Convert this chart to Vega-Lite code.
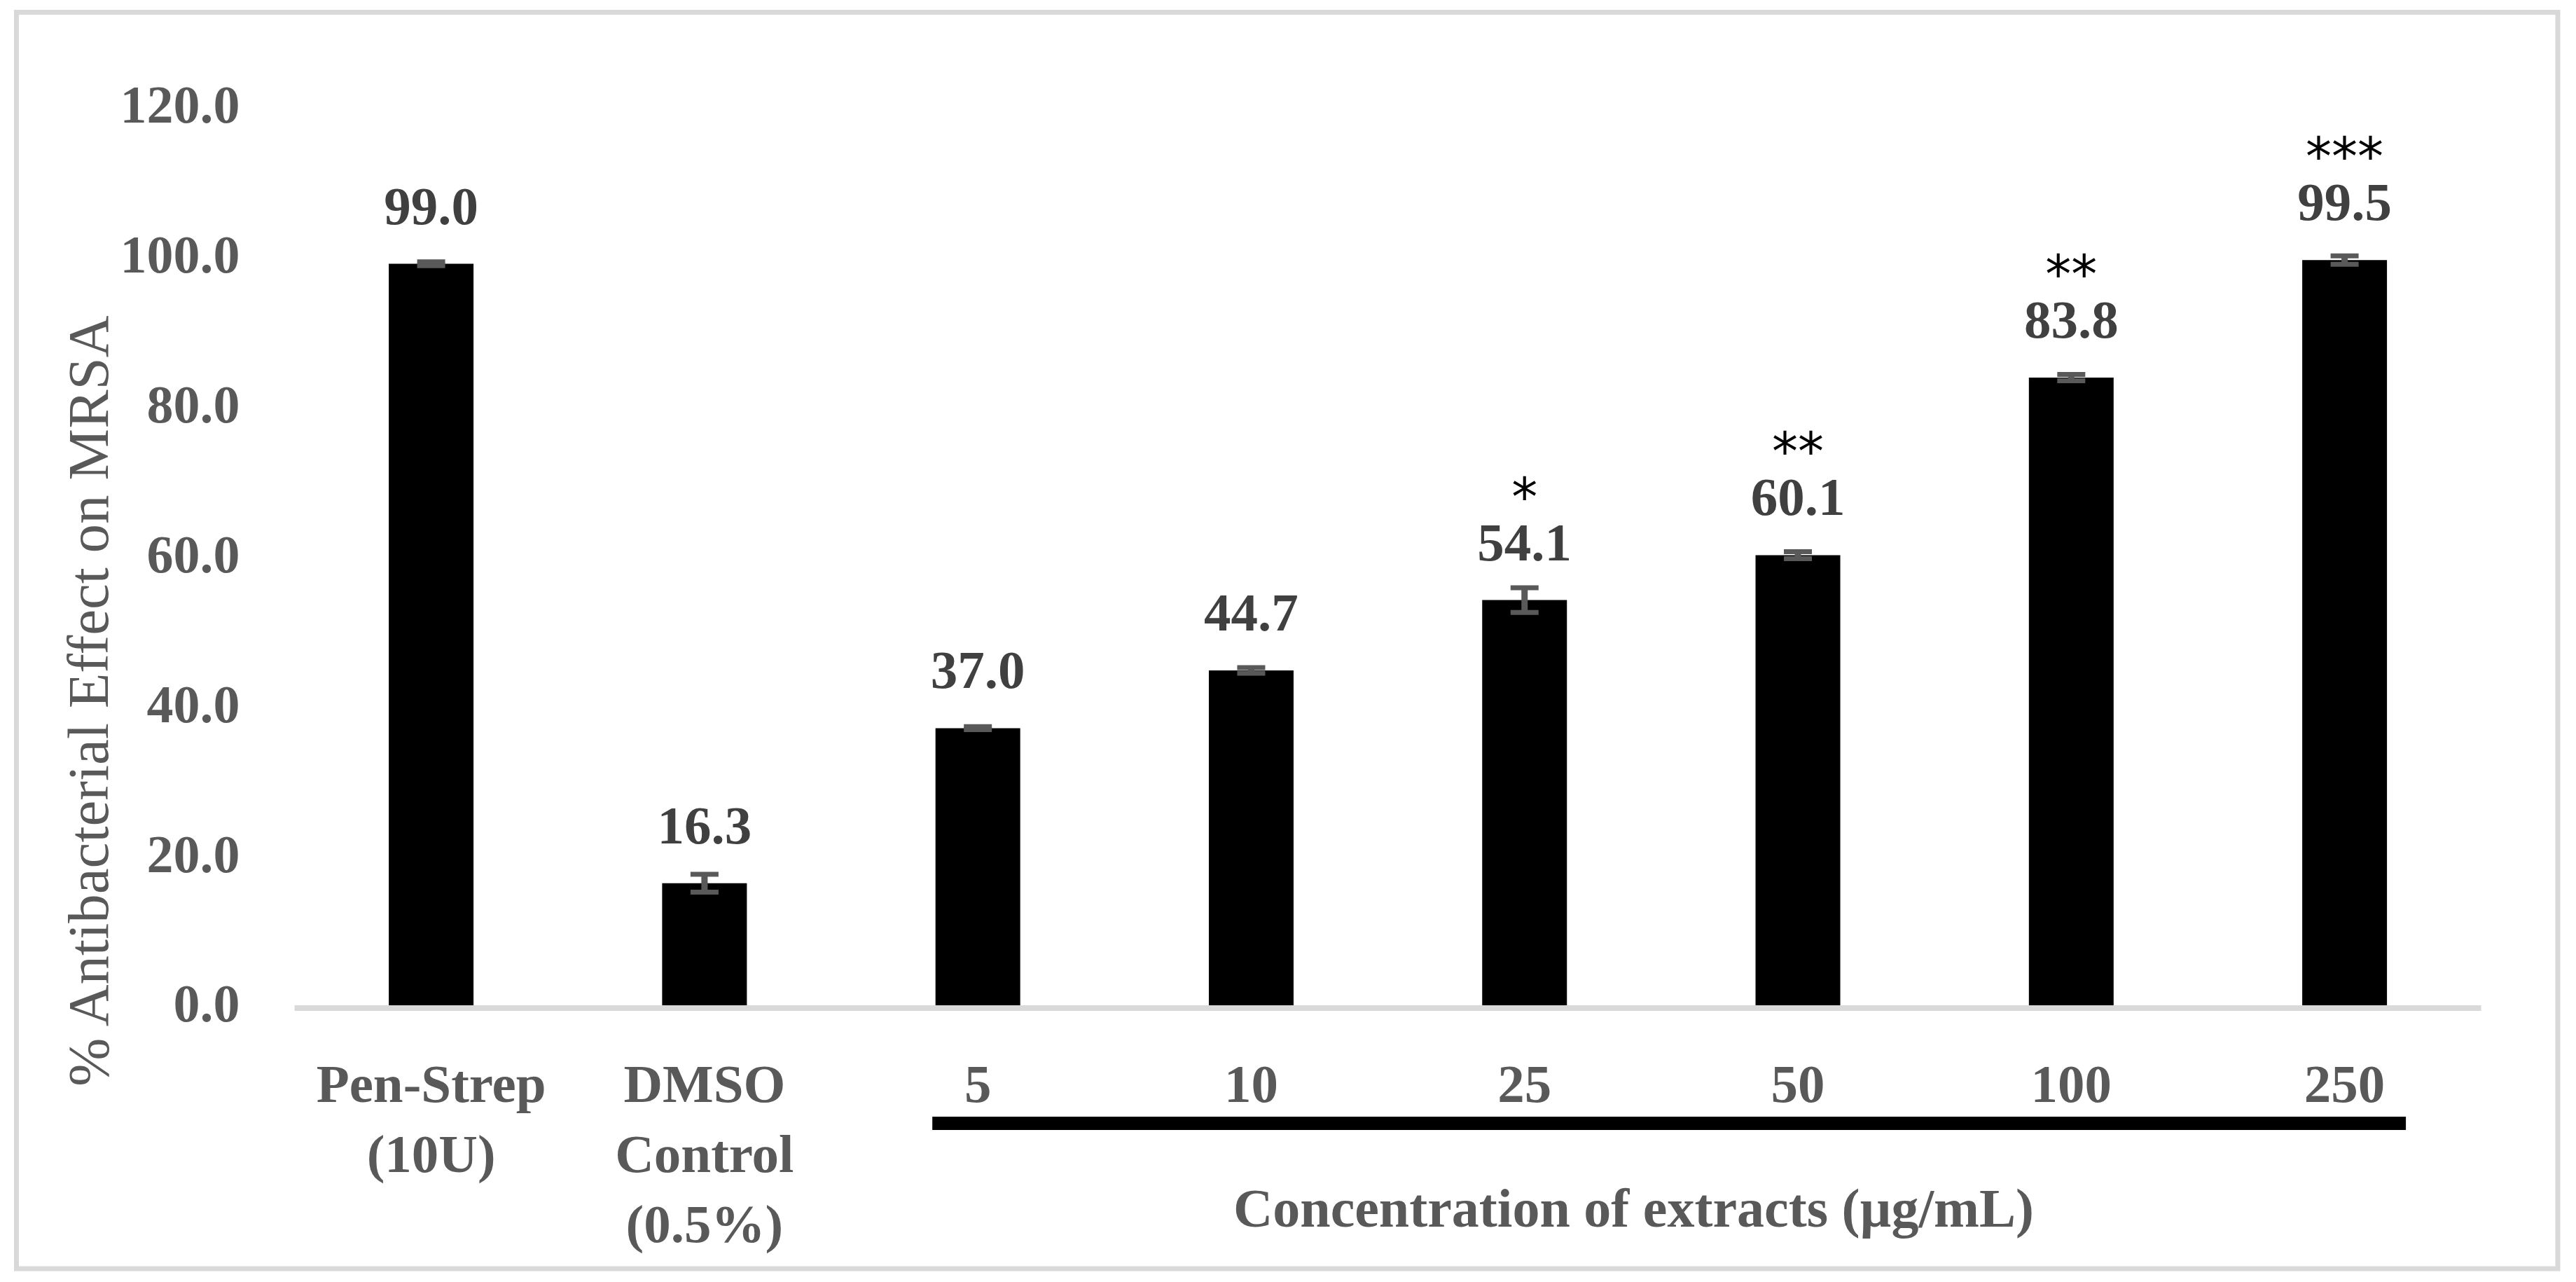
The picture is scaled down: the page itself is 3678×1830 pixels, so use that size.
{
  "$schema": "https://vega.github.io/schema/vega-lite/v6.json",
  "width": 3628.5,
  "height": 1793.5,
  "autosize": {"type": "none"},
  "padding": {"left": 23.5, "top": 17.5, "right": 26, "bottom": 19},
  "background": "white",
  "config": {
    "view": {"stroke": "#d9d9d9", "strokeWidth": 7},
    "font": "Liberation Serif"
  },
  "data": {
    "values": [
      {"group": "Pen-Strep (10U)", "value": 99.0, "lo": 98.75, "hi": 99.25, "sig": ""},
      {"group": "DMSO Control (0.5%)", "value": 16.3, "lo": 15.1, "hi": 17.5, "sig": ""},
      {"group": "5", "value": 37.0, "lo": 36.8, "hi": 37.2, "sig": ""},
      {"group": "10", "value": 44.7, "lo": 44.33, "hi": 45.07, "sig": ""},
      {"group": "25", "value": 54.1, "lo": 52.45, "hi": 55.75, "sig": "*"},
      {"group": "50", "value": 60.1, "lo": 59.63, "hi": 60.57, "sig": "**"},
      {"group": "100", "value": 83.8, "lo": 83.38, "hi": 84.22, "sig": "**"},
      {"group": "250", "value": 99.5, "lo": 98.94, "hi": 100.06, "sig": "***"}
    ]
  },
  "layer": [
    {
      "mark": {"type": "bar", "color": "black"},
      "encoding": {
        "x": {
          "field": "group",
          "type": "nominal",
          "sort": null,
          "scale": {
            "domain": ["Pen-Strep (10U)", "DMSO Control (0.5%)", "5", "10", "25", "50", "100", "250"],
            "paddingInner": 0.69,
            "paddingOuter": 0.9935,
            "align": 0.6855,
            "round": false
          },
          "axis": {
            "orient": "bottom",
            "offset": -376,
            "domain": false,
            "ticks": false,
            "tickSize": 0,
            "grid": false,
            "labelAngle": 0,
            "labelPadding": 137,
            "labelBaseline": "alphabetic",
            "labelLineHeight": 100,
            "labelLimit": 2000,
            "labelOverlap": false,
            "labelFont": "Liberation Serif",
            "labelFontSize": 77,
            "labelFontWeight": "bold",
            "labelColor": "#595959",
            "labelExpr": "datum.label == 'Pen-Strep (10U)' ? ['Pen-Strep', '(10U)'] : datum.label == 'DMSO Control (0.5%)' ? ['DMSO', 'Control', '(0.5%)'] : datum.label",
            "title": "Concentration of extracts (µg/mL)",
            "titleFont": "Liberation Serif",
            "titleFontSize": 78,
            "titleFontWeight": "bold",
            "titleColor": "#595959",
            "titleAngle": 0,
            "titleAlign": "center",
            "titleBaseline": "alphabetic",
            "titleLimit": 3000,
            "titleX": 2308.5,
            "titleY": 315
          }
        },
        "y": {
          "field": "value",
          "type": "quantitative",
          "scale": {"domain": [-35.17, 132.58], "nice": false, "zero": false},
          "axis": {
            "orient": "left",
            "offset": -318.5,
            "values": [0, 20, 40, 60, 80, 100, 120],
            "format": ".1f",
            "domain": false,
            "ticks": false,
            "tickSize": 0,
            "grid": false,
            "labelPadding": 0,
            "labelLimit": 1000,
            "labelFont": "Liberation Serif",
            "labelFontSize": 76,
            "labelFontWeight": "bold",
            "labelColor": "#595959",
            "title": "% Antibacterial Effect on MRSA",
            "titleFont": "Liberation Serif",
            "titleFontSize": 83,
            "titleFontWeight": "normal",
            "titleColor": "#595959",
            "titleAngle": -90,
            "titleAlign": "center",
            "titleBaseline": "alphabetic",
            "titleLimit": 3000,
            "titleX": -189,
            "titleY": 982.5
          }
        },
        "y2": {"datum": 0}
      }
    },
    {
      "data": {"values": [{}]},
      "mark": {"type": "rule", "color": "#d9d9d9", "strokeWidth": 8, "xOffset": -195, "x2Offset": 195, "yOffset": 4},
      "encoding": {
        "x": {"datum": "Pen-Strep (10U)", "type": "nominal"},
        "x2": {"datum": "250"},
        "y": {"datum": 0, "type": "quantitative"}
      }
    },
    {
      "mark": {"type": "rule", "color": "#595959", "strokeWidth": 9},
      "encoding": {
        "x": {"field": "group", "type": "nominal", "sort": null},
        "y": {"field": "lo", "type": "quantitative"},
        "y2": {"field": "hi"}
      }
    },
    {
      "mark": {"type": "tick", "color": "#595959", "size": 40, "thickness": 7, "opacity": 1},
      "encoding": {
        "x": {"field": "group", "type": "nominal", "sort": null},
        "y": {"field": "lo", "type": "quantitative"}
      }
    },
    {
      "mark": {"type": "tick", "color": "#595959", "size": 40, "thickness": 7, "opacity": 1},
      "encoding": {
        "x": {"field": "group", "type": "nominal", "sort": null},
        "y": {"field": "hi", "type": "quantitative"}
      }
    },
    {
      "mark": {"type": "text", "font": "Liberation Serif", "fontSize": 77, "fontWeight": "bold", "color": "#404040", "baseline": "alphabetic", "align": "center", "dy": -57},
      "encoding": {
        "x": {"field": "group", "type": "nominal", "sort": null},
        "y": {"field": "value", "type": "quantitative"},
        "text": {"field": "value", "type": "quantitative", "format": ".1f"}
      }
    },
    {
      "mark": {"type": "text", "font": "DejaVu Sans", "fontSize": 74, "color": "black", "baseline": "alphabetic", "align": "center", "dy": -122},
      "encoding": {
        "x": {"field": "group", "type": "nominal", "sort": null},
        "y": {"field": "value", "type": "quantitative"},
        "text": {"field": "sig", "type": "nominal"}
      }
    },
    {
      "data": {"values": [{}]},
      "mark": {"type": "rule", "color": "black", "strokeWidth": 19, "xOffset": -65, "x2Offset": 87.5},
      "encoding": {
        "x": {"datum": "5", "type": "nominal"},
        "x2": {"datum": "250"},
        "y": {"datum": -15.76, "type": "quantitative"}
      }
    }
  ]
}
